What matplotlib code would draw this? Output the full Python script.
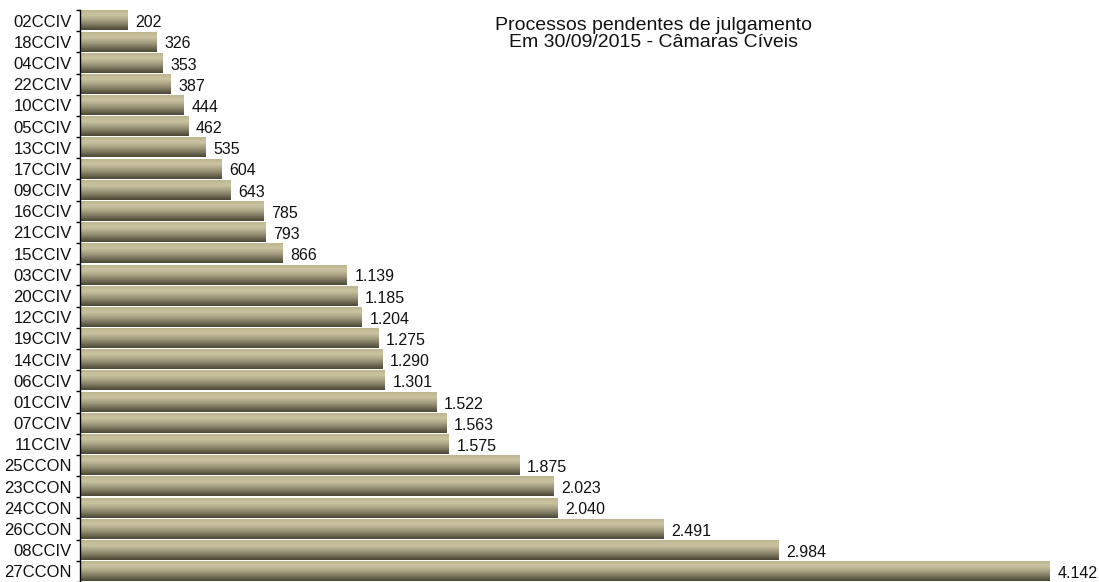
import numpy as np
import matplotlib
matplotlib.use("Agg")
import matplotlib.pyplot as plt
from matplotlib.colors import LinearSegmentedColormap

categories = ["02CCIV", "18CCIV", "04CCIV", "22CCIV", "10CCIV", "05CCIV", "13CCIV",
              "17CCIV", "09CCIV", "16CCIV", "21CCIV", "15CCIV", "03CCIV", "20CCIV",
              "12CCIV", "19CCIV", "14CCIV", "06CCIV", "01CCIV", "07CCIV", "11CCIV",
              "25CCON", "23CCON", "24CCON", "26CCON", "08CCIV", "27CCON"]
values = [202, 326, 353, 387, 444, 462, 535, 604, 643, 785, 793, 866, 1139, 1185,
          1204, 1275, 1290, 1301, 1522, 1563, 1575, 1875, 2023, 2040, 2491, 2984, 4142]
value_labels = ["202", "326", "353", "387", "444", "462", "535", "604", "643", "785",
                "793", "866", "1.139", "1.185", "1.204", "1.275", "1.290", "1.301",
                "1.522", "1.563", "1.575", "1.875", "2.023", "2.040", "2.491", "2.984", "4.142"]
title = "Processos pendentes de julgamento\nEm 30/09/2015 - Câmaras Cíveis"

plt.rcParams['font.family'] = ['Liberation Sans', 'DejaVu Sans']

fig = plt.figure(figsize=(10.99, 5.82), dpi=100)
ax = fig.add_axes([80/1099, 0.0, 1 - 80/1099, 1 - 10/582])

n = len(categories)
xmax = 4142 * (1099 - 80) / (1050 - 80)

cmap = LinearSegmentedColormap.from_list(
    "bar", [(0.0, "#bdb590"), (0.25, "#cbc4a1"), (0.55, "#a09a7e"), (1.0, "#4c4734")])
grad = np.linspace(0, 1, 64).reshape(-1, 1)
h = 0.92
bars = ax.barh(range(n), values, height=h, color="none")
for i, (b, v) in enumerate(zip(bars, values)):
    y0 = i - h / 2
    ax.imshow(grad, cmap=cmap, aspect="auto", extent=(0, v, y0 + h, y0),
              interpolation="bilinear", zorder=2)
    ax.annotate(value_labels[i], (v, i), xytext=(5.5, -1.5), textcoords="offset points",
                va="center", ha="left", fontsize=11.5, color="#111111",
                annotation_clip=False)
ax.set_xlim(0, xmax)
ax.set_ylim(n - 0.5, -0.5)

ax.set_yticks(range(n))
ax.set_yticklabels(categories, fontsize=12, color="#111111")
ax.tick_params(axis="y", which="major", length=0, pad=6)
ax.set_yticks(np.arange(n + 1) - 0.5, minor=True)
ax.tick_params(axis="y", which="minor", length=3, width=1, direction="out")
ax.set_xticks([])
for s in ["top", "right", "bottom"]:
    ax.spines[s].set_visible(False)
ax.spines["left"].set_linewidth(1)

fig.text(654/1099, 1 - 34/582, title, ha="center", va="center", fontsize=14,
         linespacing=1.05, color="#111111")

fig.savefig("out.png", dpi=100)
